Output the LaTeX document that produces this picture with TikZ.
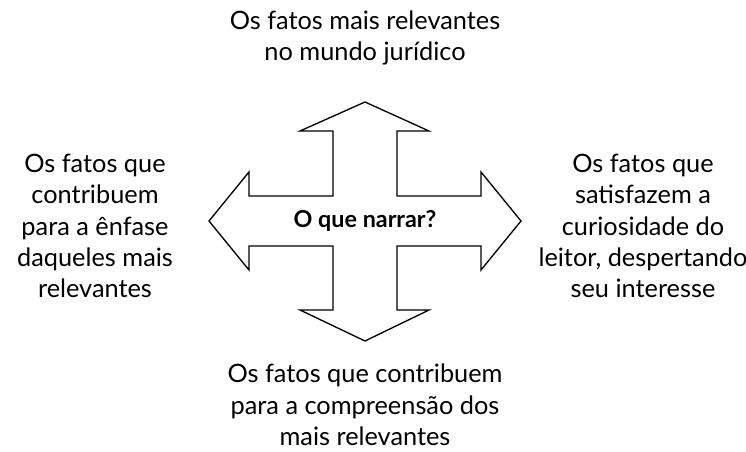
\documentclass[tikz,border=0pt]{standalone}
\usepackage{fontspec}
\setmainfont{Lato}
\begin{document}
\begin{tikzpicture}[x=0.75pt,y=-0.75pt]
\tikzset{
  lbl/.style={align=center, font=\fontsize{19}{23.5}\selectfont, inner sep=0pt},
  crossarrow/.style={draw=black, line width=1pt, line join=miter, fill=white}
}
\useasboundingbox (0,0) rectangle (746,452);
% cross arrow
\draw[crossarrow] (365,102) -- (429,131) -- (397,131) -- (397,196) -- (481,196) -- (481,172)
  -- (521,221) -- (481,270) -- (481,246) -- (397,246) -- (397,310) -- (429,310)
  -- (365,341) -- (300,310) -- (333,310) -- (333,246) -- (249,246) -- (249,270)
  -- (209,221) -- (249,172) -- (249,196) -- (333,196) -- (333,131) -- (300,131) -- cycle;
\node[font=\fontsize{17.5}{20}\selectfont\bfseries] (c) at (365,221) {O que narrar?};
\node[lbl] (top) at (365,38) {Os fatos mais relevantes\\no mundo jurídico};
\node[lbl] (left) at (95,226) {Os fatos que\\contribuem\\para a ênfase\\daqueles mais\\relevantes};
\node[lbl] (right) at (643,226) {Os fatos que\\satisfazem a\\curiosidade do\\leitor, despertando\\seu interesse};
\node[lbl] (bottom) at (365,405) {Os fatos que contribuem\\para a compreensão dos\\mais relevantes};
\end{tikzpicture}
\end{document}
